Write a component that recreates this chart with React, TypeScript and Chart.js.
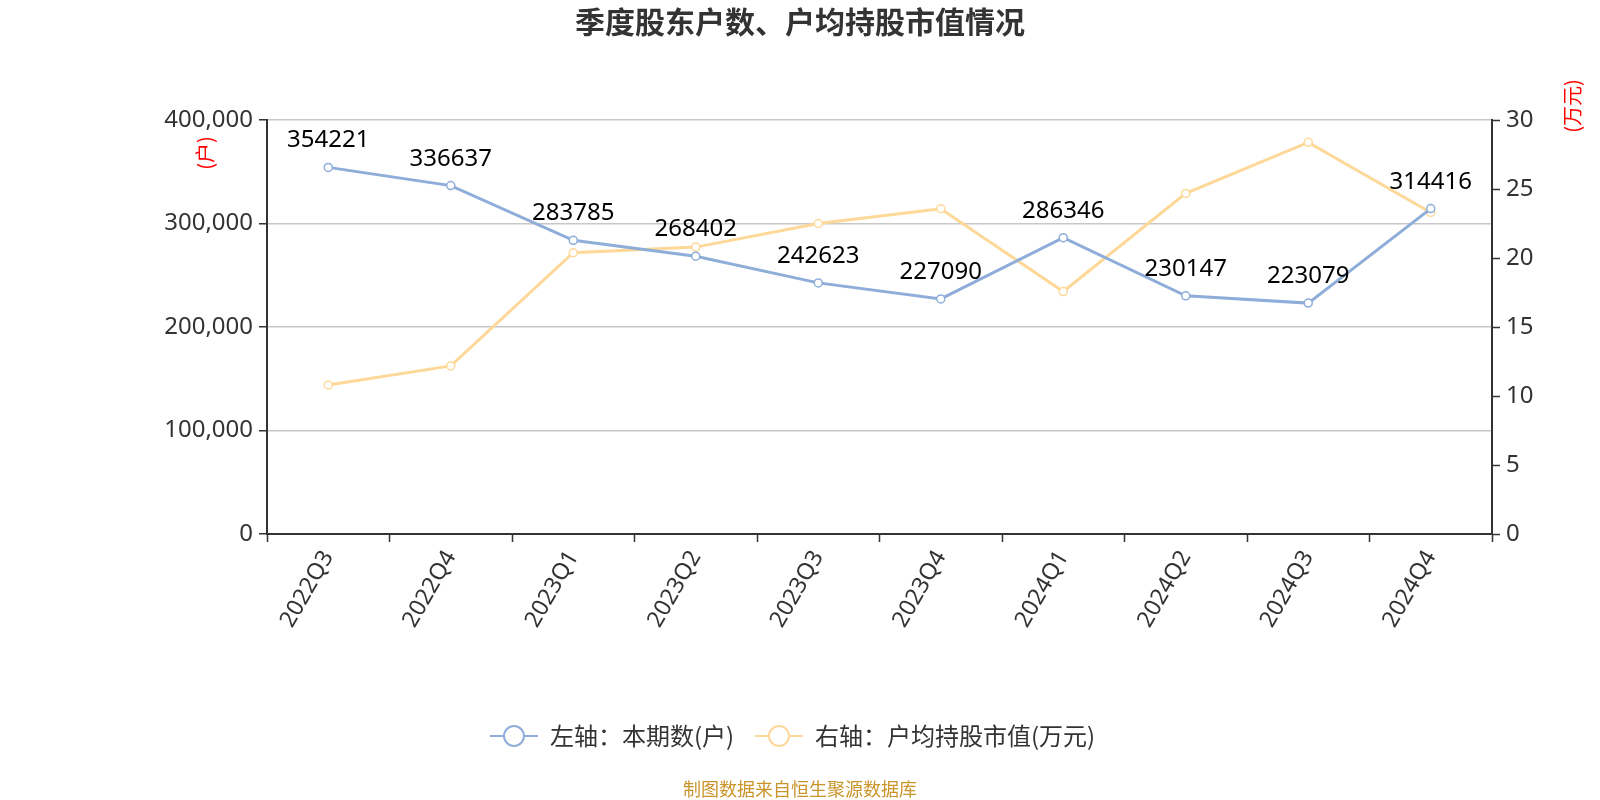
import { useRef, useEffect } from "react";
import Chart from "chart.js/auto";

const quarters = ["2022Q3", "2022Q4", "2023Q1", "2023Q2", "2023Q3", "2023Q4", "2024Q1", "2024Q2", "2024Q3", "2024Q4"];
const holders = [354221, 336637, 283785, 268402, 242623, 227090, 286346, 230147, 223079, 314416];
const avgValue = [10.8, 12.18, 20.38, 20.79, 22.5, 23.57, 17.57, 24.68, 28.38, 23.3];
const leftTicks = [0, 100000, 200000, 300000, 400000];
const rightTicks = [0, 5, 10, 15, 20, 25, 30];

const FONT = '"Noto Sans", "Noto Sans CJK SC", sans-serif';
const CJK = '"Noto Sans CJK SC", "Noto Sans", sans-serif';
const BLUE = "#8eadd9";
const YELLOW = "#fdd898";

// draws the title, axis names, point labels, legend and source line
const decorPlugin = {
  id: "decor",
  afterDatasetsDraw(chart: any) {
    const ctx = chart.ctx;
    ctx.save();

    // value labels on the blue series
    const meta = chart.getDatasetMeta(0);
    ctx.font = `24px ${FONT}`;
    ctx.fillStyle = "#000";
    ctx.textAlign = "center";
    ctx.textBaseline = "alphabetic";
    meta.data.forEach((pt: any, i: number) => {
      ctx.fillText(String(holders[i]), pt.x, pt.y - 20);
    });

    // title
    ctx.font = `bold 30px ${CJK}`;
    ctx.fillStyle = "#333";
    ctx.textBaseline = "middle";
    ctx.fillText("季度股东户数、户均持股市值情况", 800, 22);

    // axis names
    ctx.font = `20px ${CJK}`;
    ctx.fillStyle = "#ff0000";
    ctx.save();
    ctx.translate(205, 153);
    ctx.rotate(-Math.PI / 2);
    ctx.fillText("(户)", 0, 0);
    ctx.restore();
    ctx.save();
    ctx.translate(1572, 106);
    ctx.rotate(-Math.PI / 2);
    ctx.fillText("(万元)", 0, 0);
    ctx.restore();

    // legend
    const items = [
      { text: "左轴：本期数(户)", color: BLUE, x: 490 },
      { text: "右轴：户均持股市值(万元)", color: YELLOW, x: 755 },
    ];
    const ly = 736;
    ctx.font = `24px ${CJK}`;
    ctx.textAlign = "left";
    items.forEach((it) => {
      ctx.strokeStyle = it.color;
      ctx.lineWidth = 2;
      ctx.beginPath();
      ctx.moveTo(it.x, ly);
      ctx.lineTo(it.x + 48, ly);
      ctx.stroke();
      ctx.beginPath();
      ctx.arc(it.x + 24, ly, 10, 0, Math.PI * 2);
      ctx.fillStyle = "#fff";
      ctx.fill();
      ctx.stroke();
      ctx.fillStyle = "#333";
      ctx.fillText(it.text, it.x + 60, ly);
    });

    // source
    ctx.font = `18px ${CJK}`;
    ctx.fillStyle = "#c9952b";
    ctx.textAlign = "center";
    ctx.fillText("制图数据来自恒生聚源数据库", 800, 789);

    ctx.restore();
  },
};

const App = () => {
  const chartRef = useRef<HTMLCanvasElement | null>(null);
  const chartInstance = useRef<Chart | null>(null);

  useEffect(() => {
    document.body.style.margin = "0";
    if (!chartRef.current) return;
    if (chartInstance.current) chartInstance.current.destroy();

    chartInstance.current = new Chart(chartRef.current, {
      type: "line",
      data: {
        labels: quarters,
        datasets: [
          {
            label: "左轴：本期数(户)",
            data: holders,
            yAxisID: "y",
            borderColor: BLUE,
            backgroundColor: "#fff",
            borderWidth: 3,
            pointRadius: 4,
            pointBorderWidth: 1.5,
            pointBackgroundColor: "#fff",
            pointBorderColor: BLUE,
            tension: 0,
            order: 0,
          },
          {
            label: "右轴：户均持股市值(万元)",
            data: avgValue,
            yAxisID: "y1",
            borderColor: YELLOW,
            backgroundColor: "#fff",
            borderWidth: 3,
            pointRadius: 4,
            pointBorderWidth: 1.5,
            pointBackgroundColor: "#fff",
            pointBorderColor: YELLOW,
            tension: 0,
            order: 1,
          },
        ],
      },
      options: {
        responsive: false,
        animation: false,
        layout: { padding: { top: 120, left: 0, right: 0, bottom: 0 } },
        plugins: {
          legend: { display: false },
          title: { display: false },
          tooltip: { enabled: false },
        },
        scales: {
          x: {
            offset: true,
            grid: { drawOnChartArea: false, offset: true, tickLength: 8, tickColor: "#333", tickWidth: 1.5 },
            border: { color: "#333", width: 2 },
            ticks: {
              font: { size: 23, family: FONT },
              color: "#333",
              maxRotation: 60,
              minRotation: 60,
              padding: 4,
            },
            afterFit: (scale: any) => {
              scale.height = 266;
            },
          },
          y: {
            position: "left",
            min: 0,
            max: 400000,
            afterBuildTicks: (scale: any) => {
              scale.ticks = leftTicks.map((v) => ({ value: v }));
            },
            grid: { color: "#c8c8c8", lineWidth: 1.5, tickLength: 8, tickColor: "#333", tickWidth: 1.5 },
            border: { color: "#333", width: 2 },
            ticks: {
              font: { size: 24, family: FONT },
              color: "#333",
              padding: 6,
              callback: (v: any) => Number(v).toLocaleString("en-US"),
            },
            afterFit: (scale: any) => {
              scale.width = 267;
            },
          },
          y1: {
            position: "right",
            min: 0,
            max: 30,
            afterBuildTicks: (scale: any) => {
              scale.ticks = rightTicks.map((v) => ({ value: v }));
            },
            grid: { drawOnChartArea: false, tickLength: 8, tickColor: "#333", tickWidth: 1.5 },
            border: { color: "#333", width: 2 },
            ticks: {
              font: { size: 24, family: FONT },
              color: "#333",
              padding: 6,
            },
            afterFit: (scale: any) => {
              scale.width = 108;
            },
          },
        },
      },
      plugins: [decorPlugin],
    });

    return () => {
      if (chartInstance.current) {
        chartInstance.current.destroy();
        chartInstance.current = null;
      }
    };
  }, []);

  return (
    <div style={{ width: 1600, height: 800, background: "#fff" }}>
      <canvas ref={chartRef} width={1600} height={800} />
    </div>
  );
};

export default App;
